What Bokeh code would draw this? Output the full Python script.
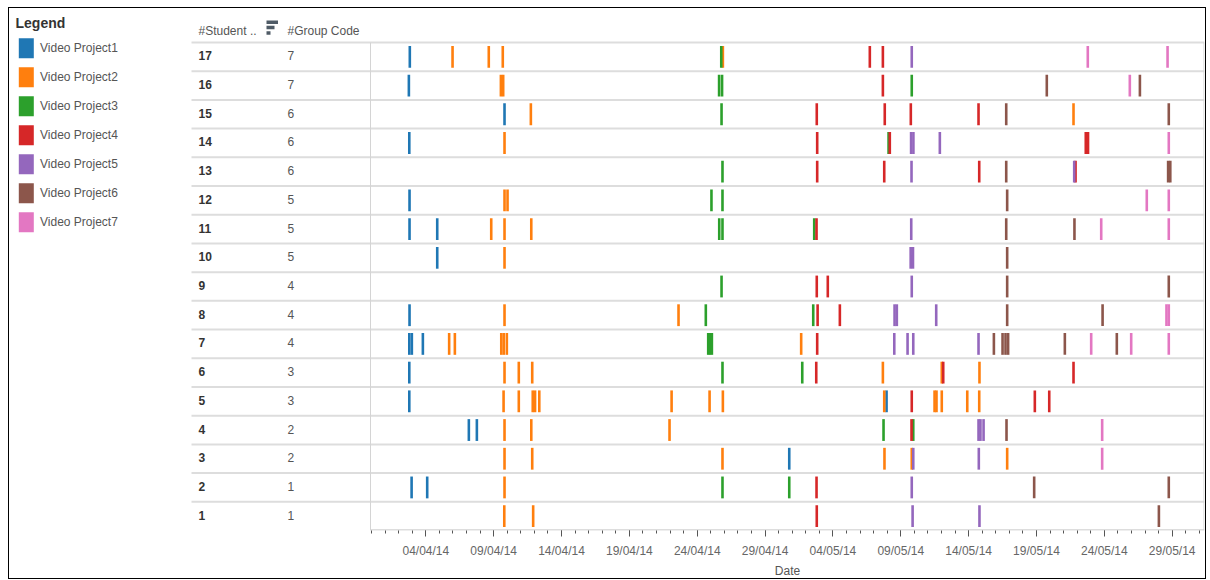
import pandas as pd
from bokeh.plotting import figure
from bokeh.layouts import row
from bokeh.models import Range1d, FixedTicker, DatetimeTickFormatter, ColumnDataSource, Title
from bokeh.core.properties import value
from bokeh.embed import file_html
from bokeh.resources import INLINE

# ---------------- data ----------------
projects = ["Video Project1", "Video Project2", "Video Project3", "Video Project4",
            "Video Project5", "Video Project6", "Video Project7"]
colors = ["#1f77b4", "#ff7f0e", "#2ca02c", "#d62728", "#9467bd", "#8c564b", "#e377c2"]

students = [17, 16, 15, 14, 13, 12, 11, 10, 9, 8, 7, 6, 5, 4, 3, 2, 1]
group_codes = [7, 7, 6, 6, 6, 5, 5, 5, 4, 4, 4, 3, 3, 2, 2, 1, 1]

tick_labels = ["04/04/14", "09/04/14", "14/04/14", "19/04/14", "24/04/14", "29/04/14",
               "04/05/14", "09/05/14", "14/05/14", "19/05/14", "24/05/14", "29/05/14"]

vp1_student = [17, 16, 15, 14, 12, 11, 11, 10, 8, 7, 7, 7, 6, 5, 5, 4, 4, 3, 2, 2]
vp1_time = ["2014-04-02 19:40", "2014-04-02 18:00", "2014-04-09 19:10", "2014-04-02 18:45",
            "2014-04-02 19:10", "2014-04-02 19:10", "2014-04-04 20:10", "2014-04-04 20:10",
            "2014-04-02 19:10", "2014-04-02 18:45", "2014-04-02 23:15", "2014-04-03 18:45",
            "2014-04-02 18:45", "2014-04-02 18:45", "2014-05-07 22:50", "2014-04-07 04:05",
            "2014-04-07 18:15", "2014-04-30 18:45", "2014-04-02 22:50", "2014-04-04 02:25"]

vp2_student = [17, 17, 17, 17, 16, 16, 15, 15, 14, 12, 12, 11, 11, 11, 10, 8, 8,
               7, 7, 7, 7, 7, 7, 6, 6, 6, 6, 6, 6,
               5, 5, 5, 5, 5, 5, 5, 5, 5, 5, 5, 5, 5, 5,
               4, 4, 4, 3, 3, 3, 3, 3, 3, 2, 1, 1]
vp2_time = ["2014-04-05 23:15", "2014-04-08 15:20", "2014-04-09 16:05", "2014-04-25 21:20",
            "2014-04-09 12:45", "2014-04-09 16:50", "2014-04-11 17:45", "2014-05-21 17:30",
            "2014-04-09 19:10", "2014-04-09 19:10", "2014-04-10 00:30", "2014-04-08 19:40",
            "2014-04-09 19:10", "2014-04-11 18:30", "2014-04-09 19:10", "2014-04-09 19:10",
            "2014-04-22 14:55",
            "2014-04-05 17:15", "2014-04-06 03:20", "2014-04-09 13:25", "2014-04-09 17:45",
            "2014-04-09 23:15", "2014-05-01 15:50",
            "2014-04-09 19:10", "2014-04-10 20:25", "2014-04-11 20:10", "2014-05-07 16:20",
            "2014-05-12 00:30", "2014-05-14 19:10",
            "2014-04-09 17:30", "2014-04-10 20:25", "2014-04-11 21:05", "2014-04-12 01:10",
            "2014-04-12 08:40", "2014-04-22 02:40", "2014-04-24 21:50", "2014-04-25 21:20",
            "2014-05-07 18:45", "2014-05-11 11:45", "2014-05-11 15:10", "2014-05-12 00:30",
            "2014-05-13 21:35", "2014-05-14 18:45",
            "2014-04-09 19:10", "2014-04-11 18:30", "2014-04-21 23:00",
            "2014-04-09 19:10", "2014-04-11 20:10", "2014-04-25 20:40", "2014-05-07 19:10",
            "2014-05-09 19:25", "2014-05-16 20:10",
            "2014-04-09 19:10", "2014-04-09 18:45", "2014-04-11 21:50"]

vp3_student = [17, 16, 16, 16, 15, 14, 13, 12, 12, 11, 11, 11, 9, 8, 8, 7, 7, 7, 6, 6, 4, 4, 2, 2]
vp3_time = ["2014-04-25 18:30", "2014-04-25 14:40", "2014-04-25 19:55", "2014-05-09 19:25",
            "2014-04-25 19:00", "2014-05-08 02:25", "2014-04-25 20:40", "2014-04-25 01:10",
            "2014-04-25 20:40", "2014-04-25 14:55", "2014-04-25 20:40", "2014-05-02 14:55",
            "2014-04-25 19:00", "2014-04-24 15:10", "2014-05-02 13:10", "2014-04-24 19:25",
            "2014-04-24 22:35", "2014-04-25 01:55", "2014-04-25 20:40", "2014-05-01 17:45",
            "2014-05-07 17:30", "2014-05-09 22:05", "2014-04-25 20:40", "2014-04-30 18:45"]

vp4_student = [17, 17, 16, 15, 15, 15, 15, 14, 14, 14, 14, 13, 13, 13, 13, 11, 9, 9, 8, 8,
               7, 6, 6, 6, 5, 5, 5, 4, 2, 1]
vp4_time = ["2014-05-06 17:15", "2014-05-07 16:20", "2014-05-07 16:20", "2014-05-02 19:25",
            "2014-05-07 19:40", "2014-05-09 17:45", "2014-05-14 17:30", "2014-05-02 20:10",
            "2014-05-08 04:35", "2014-05-22 15:10", "2014-05-22 19:10", "2014-05-02 20:10",
            "2014-05-07 18:45", "2014-05-14 18:45", "2014-05-21 21:05", "2014-05-02 19:00",
            "2014-05-02 19:25", "2014-05-03 14:55", "2014-05-02 20:55", "2014-05-04 12:15",
            "2014-05-02 20:10", "2014-05-02 18:30", "2014-05-12 03:05", "2014-05-21 17:30",
            "2014-05-09 19:25", "2014-05-18 21:05", "2014-05-19 22:35", "2014-05-09 19:00",
            "2014-05-02 19:00", "2014-05-02 19:25"]

vp5_student = [17, 14, 14, 14, 13, 13, 11, 10, 10, 9, 8, 8, 8, 7, 7, 7, 7, 4, 4, 4, 3, 3, 2, 1, 1]
vp5_time = ["2014-05-09 19:25", "2014-05-09 18:15", "2014-05-09 22:20", "2014-05-11 21:05",
            "2014-05-09 19:00", "2014-05-21 18:45", "2014-05-09 18:30", "2014-05-09 17:30",
            "2014-05-09 21:35", "2014-05-09 19:25", "2014-05-08 13:00", "2014-05-08 17:00",
            "2014-05-11 14:40", "2014-05-08 12:30", "2014-05-09 12:00", "2014-05-09 22:05",
            "2014-05-14 17:30", "2014-05-14 17:30", "2014-05-14 20:55", "2014-05-15 02:25",
            "2014-05-09 22:05", "2014-05-14 18:00", "2014-05-09 19:25", "2014-05-09 20:55",
            "2014-05-14 19:10"]

vp6_student = [16, 16, 15, 15, 13, 13, 13, 12, 11, 11, 10, 9, 9, 8, 8,
               7, 7, 7, 7, 7, 7, 4, 2, 2, 1]
vp6_time = ["2014-05-19 18:15", "2014-05-26 14:55", "2014-05-16 18:30", "2014-05-28 18:00",
            "2014-05-16 18:30", "2014-05-28 16:50", "2014-05-28 20:40", "2014-05-16 20:10",
            "2014-05-16 18:30", "2014-05-21 19:10", "2014-05-16 20:10", "2014-05-16 20:10",
            "2014-05-28 18:00", "2014-05-16 20:10", "2014-05-23 20:55",
            "2014-05-15 20:40", "2014-05-16 12:00", "2014-05-16 17:15", "2014-05-16 21:50",
            "2014-05-21 02:10", "2014-05-24 22:05", "2014-05-16 19:00", "2014-05-18 19:55",
            "2014-05-28 18:00", "2014-05-28 00:30"]

vp7_student = [17, 17, 16, 14, 12, 12, 11, 11, 8, 8, 7, 7, 7, 4, 3]
vp7_time = ["2014-05-22 18:45", "2014-05-28 15:50", "2014-05-25 21:05", "2014-05-28 18:00",
            "2014-05-27 03:05", "2014-05-28 18:00", "2014-05-23 18:30", "2014-05-28 18:00",
            "2014-05-28 13:55", "2014-05-28 18:00", "2014-05-23 00:45", "2014-05-25 23:30",
            "2014-05-28 18:00", "2014-05-23 20:10", "2014-05-23 20:10"]

series_students = [vp1_student, vp2_student, vp3_student, vp4_student, vp5_student, vp6_student, vp7_student]
series_times = [vp1_time, vp2_time, vp3_time, vp4_time, vp5_time, vp6_time, vp7_time]

# ---------------- layout constants (image pixels) ----------------
FONT = "Liberation Sans"
LEFT0, RIGHT0 = 9, 1204     # frame left / right (image px)
TOP, BOTTOM = 8, 530        # frame top / bottom (image px); bottom = last row boundary
W = 1196
H = 570
ROW_TOP = 42                # first row boundary (image px)
N_ROWS = len(students)
ROW_H = (BOTTOM - ROW_TOP) / N_ROWS
SEP = "#dddddd"
CHART_X0 = 370              # left edge of the date area (image px)

# ---------------- figure ----------------
P = figure(width=W, height=H, x_axis_type="datetime",
           x_range=Range1d(pd.Timestamp("2014-03-04 07:40"), pd.Timestamp("2014-05-31 09:10")),
           y_range=Range1d(0.5, 0.5 + (BOTTOM - TOP) / ROW_H), y_axis_location=None,
           toolbar_location=None, output_backend="svg", title=None,
           min_border_top=0, min_border_left=0, min_border_right=W - (RIGHT0 - LEFT0),
           min_border_bottom=H - (BOTTOM - TOP))
P.extra_x_ranges = {"px": Range1d(LEFT0, RIGHT0)}
P.extra_y_ranges = {"px": Range1d(BOTTOM, TOP)}
P.grid.visible = False
P.outline_line_color = None

# row separators (table + chart), vertical borders of the date area
bounds = [k + 0.5 for k in range(1, N_ROWS + 1)]
P.segment(x0=[191] * len(bounds), x1=[RIGHT0] * len(bounds), y0=bounds, y1=bounds,
          x_range_name="px", line_color=SEP, line_width=2)
P.segment(x0=[CHART_X0], x1=[RIGHT0], y0=[0.5], y1=[0.5], x_range_name="px",
          line_color=SEP, line_width=3)
P.segment(x0=[CHART_X0, RIGHT0 - 0.5], x1=[CHART_X0, RIGHT0 - 0.5], y0=[0.5, 0.5],
          y1=[N_ROWS + 0.5, N_ROWS + 0.5], x_range_name="px", line_color="#d4d4d4", line_width=1)

# legend
P.text(x=[15], y=[22], text=["Legend"], x_range_name="px", y_range_name="px",
       text_font=value(FONT), text_font_size="14px", text_font_style="bold",
       text_color="#333333", text_baseline="middle")
n = len(projects)
leg_y = [47.7 + 29 * i for i in range(n)]
P.rect(x=[25.8] * n, y=leg_y, width=15, height=20, x_range_name="px", y_range_name="px",
       fill_color=colors, line_color=None)
P.text(x=[39.5] * n, y=leg_y, text=projects, x_range_name="px", y_range_name="px",
       text_font=value(FONT), text_font_size="12px", text_color="#555555", text_baseline="middle")

# table header
P.text(x=[198, 287], y=[30.5, 30.5], text=["#Student ..", "#Group Code"],
       x_range_name="px", y_range_name="px", text_font=value(FONT), text_font_size="12px",
       text_color="#555555", text_baseline="middle")
P.quad(left=[266, 266, 266], right=[277.5, 274, 270], top=[20, 25.3, 30.7], bottom=[23.4, 28.7, 34.2],
       x_range_name="px", y_range_name="px", fill_color="#4f5b66", line_color=None)

# table rows
P.text(x=[198] * N_ROWS, y=students, y_offset=-1, text=[str(s) for s in students], x_range_name="px",
       text_font=value(FONT), text_font_size="12px", text_font_style="bold",
       text_color="#333333", text_baseline="middle")
P.text(x=[287] * N_ROWS, y=students, y_offset=-1, text=[str(g) for g in group_codes], x_range_name="px",
       text_font=value(FONT), text_font_size="12px", text_color="#555555", text_baseline="middle")

# event marks
for name, col, ss, ts in zip(projects, colors, series_students, series_times):
    src = ColumnDataSource(dict(x=pd.to_datetime(ts), y=ss))
    P.rect(x="x", y="y", width=2.6, width_units="screen", height=0.76, source=src,
           fill_color=col, line_color=None)

# date axis
major = pd.to_datetime(tick_labels, format="%d/%m/%y")
minor = pd.date_range("2014-03-31", "2014-05-31", freq="D")
to_ms = lambda d: [t.value / 1e6 for t in d]
P.xaxis.ticker = FixedTicker(ticks=to_ms(major), minor_ticks=to_ms(minor))
fmt = "%d/%m/%y"
P.xaxis.formatter = DatetimeTickFormatter(days=fmt, months=fmt, years=fmt, hours=fmt,
                                          minutes=fmt, seconds=fmt, milliseconds=fmt,
                                          minsec=fmt, hourmin=fmt)
P.xaxis.axis_line_color = None
P.xaxis.major_tick_in = 0
P.xaxis.major_tick_out = 6
P.xaxis.minor_tick_in = 0
P.xaxis.minor_tick_out = 3
P.xaxis.major_tick_line_color = "#555555"
P.xaxis.minor_tick_line_color = "#555555"
P.xaxis.major_label_text_font = FONT
P.xaxis.major_label_text_font_size = "12px"
P.xaxis.major_label_text_color = "#666666"
P.xaxis.major_label_standoff = 7

# axis title "Date", centred under the date area (as a below-panel title)
P.add_layout(Title(text="Date", align="left", offset=(CHART_X0 + RIGHT0) / 2 - 12.7 - LEFT0,
                   standoff=2, text_font=FONT, text_font_size="12px", text_font_style="normal",
                   text_color="#555555"), "below")

layout = row(P, styles={"border": "1px solid #000000", "margin": "7px 0px 0px 8px"})

open("out.html", "w").write(file_html(layout, INLINE))
